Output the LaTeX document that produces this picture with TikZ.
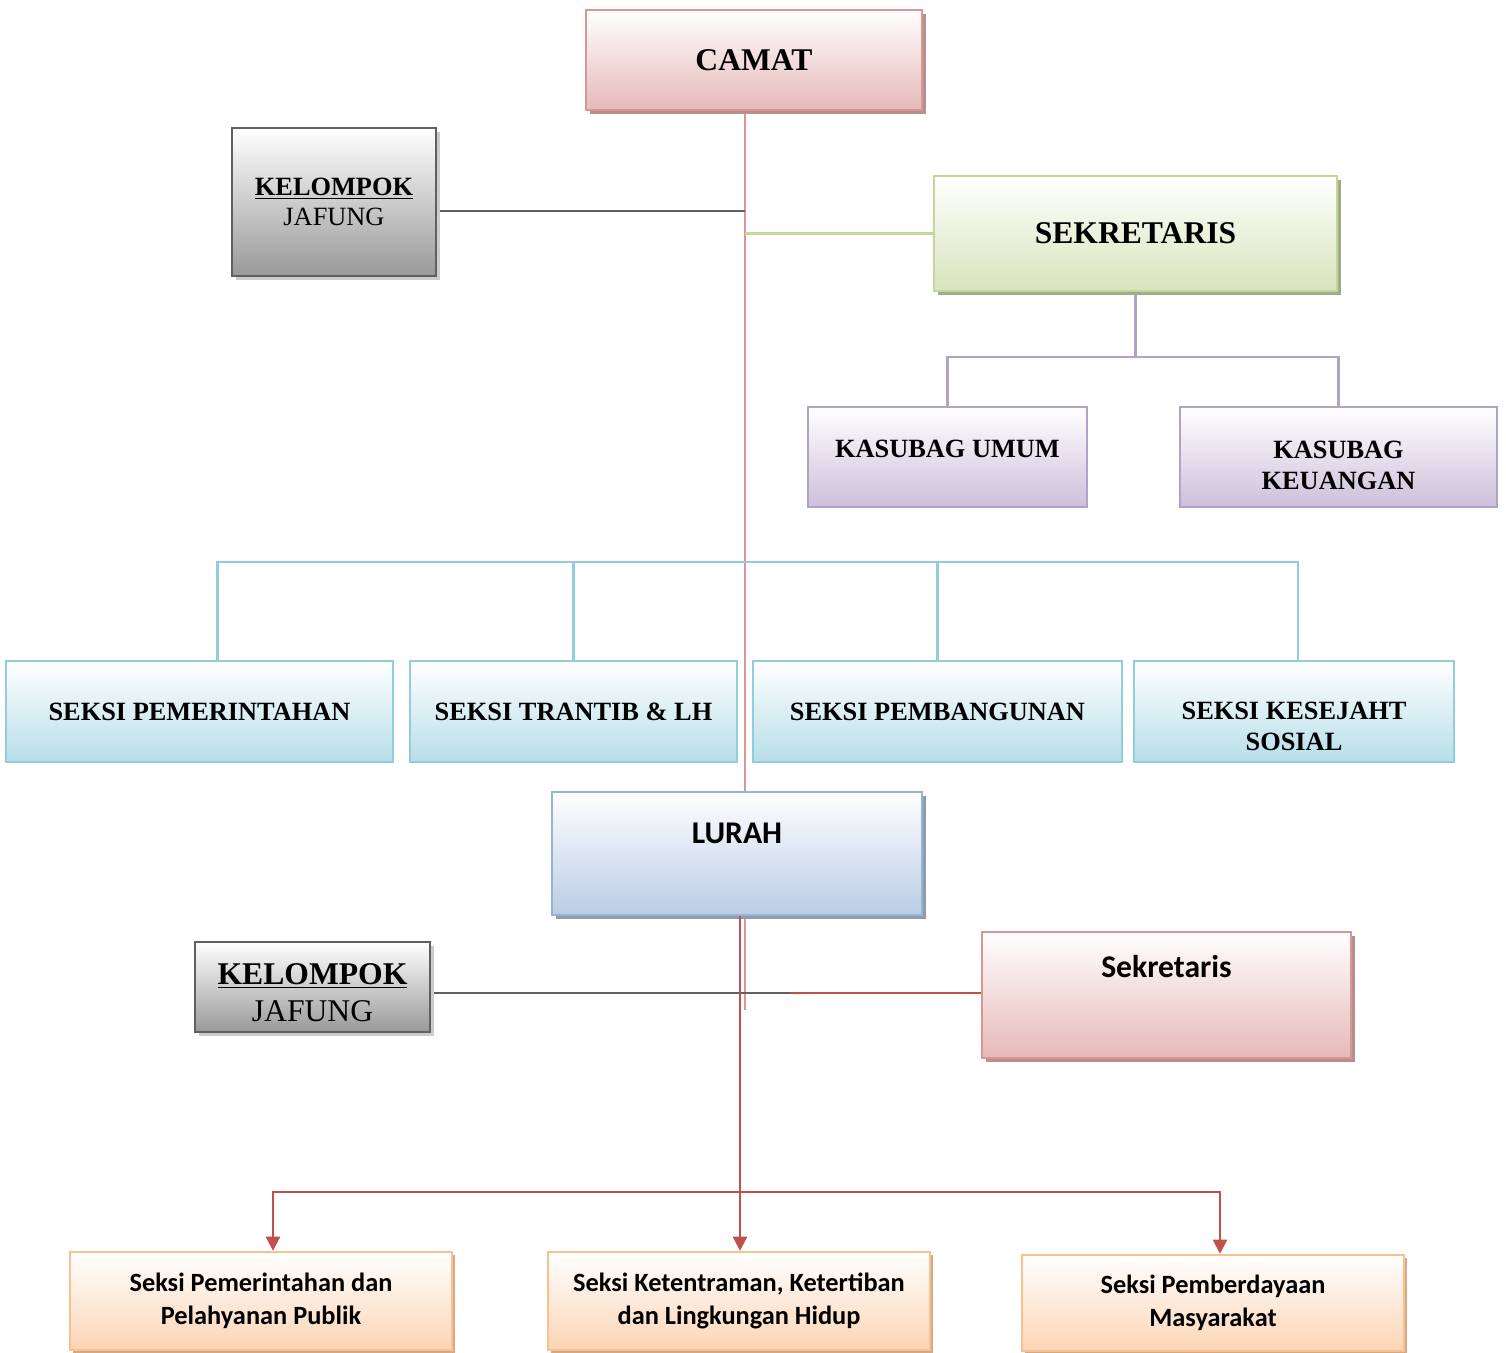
\documentclass[tikz,border=0pt]{standalone}
\usepackage{fontspec}
\setmainfont{Liberation Serif}
\newfontfamily\calibfont{Carlito}
\usetikzlibrary{arrows.meta,shadows,backgrounds}

\definecolor{camatdraw}{HTML}{D99694}
\definecolor{camatfill}{HTML}{E6B9B8}
\definecolor{camatshade}{HTML}{B49190}
\definecolor{jafdraw}{HTML}{606060}
\definecolor{jaffill}{HTML}{999999}
\definecolor{jafshade}{HTML}{CCCCCC}
\definecolor{sekdraw}{HTML}{C3D69B}
\definecolor{sekfill}{HTML}{D7E4BD}
\definecolor{sekshade}{HTML}{A0AC86}
\definecolor{subdraw}{HTML}{B3A2C7}
\definecolor{subfill}{HTML}{CCC0DA}
\definecolor{seksidraw}{HTML}{93CDDD}
\definecolor{seksifill}{HTML}{B7DEE8}
\definecolor{lurahdraw}{HTML}{95B3D7}
\definecolor{lurahfill}{HTML}{B9CDE5}
\definecolor{lurahshade}{HTML}{8F9CAE}
\definecolor{kelfill}{HTML}{FBD5B5}
\definecolor{keldraw}{HTML}{FAC090}
\definecolor{kelshade}{HTML}{D9A984}
\definecolor{redline}{HTML}{C0504D}

\tikzset{
  unitbox/.style={rectangle, align=center, inner sep=2pt},
  camatbox/.style={unitbox, draw=camatdraw, line width=1.6pt, top color=white, bottom color=camatfill,
    general shadow={fill=camatshade, shadow xshift=2.3pt, shadow yshift=-2.3pt}},
  jafungbox/.style={unitbox, draw=jafdraw, line width=1.6pt, top color=white, bottom color=jaffill,
    general shadow={fill=jafshade, shadow xshift=2.3pt, shadow yshift=-2.3pt}},
  sekbox/.style={unitbox, draw=sekdraw, line width=1.6pt, top color=white, bottom color=sekfill,
    general shadow={fill=sekshade, shadow xshift=2.3pt, shadow yshift=-2.3pt}},
  subbox/.style={unitbox, draw=subdraw, line width=1.2pt, top color=white, bottom color=subfill},
  seksibox/.style={unitbox, draw=seksidraw, line width=1.2pt, top color=white, bottom color=seksifill,
    minimum height=2.02cm},
  lurahbox/.style={unitbox, draw=lurahdraw, line width=1.6pt, top color=white, bottom color=lurahfill,
    general shadow={fill=lurahshade, shadow xshift=2.3pt, shadow yshift=-2.3pt}},
  kelbox/.style={unitbox, draw=keldraw, line width=1.4pt, top color=white, bottom color=kelfill,
    minimum width=7.64cm, minimum height=1.96cm,
    general shadow={fill=kelshade, shadow xshift=1.8pt, shadow yshift=-1.8pt}},
  bigtimes/.style={font=\bfseries\fontsize{18}{21}\selectfont},
  midtimes/.style={font=\bfseries\fontsize{15}{17.6}\selectfont},
  bigcalib/.style={font=\calibfont\bfseries\fontsize{18}{21}\selectfont},
  midcalib/.style={font=\calibfont\bfseries\fontsize{15}{18.8}\selectfont},
  spineline/.style={draw=camatdraw, line width=1.3pt},
  grayline/.style={draw=jafdraw, line width=1.2pt},
  greenline/.style={draw=sekdraw, line width=1.2pt},
  purpleline/.style={draw=subdraw, line width=1.2pt},
  aqualine/.style={draw=seksidraw, line width=1.2pt},
  redconn/.style={draw=redline, line width=1.2pt},
  redarrow/.style={redconn, -{Triangle[width=8pt,length=8pt]}}
}

\begin{document}
\begin{tikzpicture}[x=0.02cm, y=-0.02cm]
  \useasboundingbox (0,0) rectangle (1506,1352);

  % kecamatan
  \node[camatbox, bigtimes, minimum width=6.72cm, minimum height=2cm] (camat) at (754,60) {CAMAT};
  \node[jafungbox, font=\fontsize{15}{17}\selectfont, minimum width=4.08cm, minimum height=2.96cm] (jafung) at (334,202)
    {{\bfseries\underline{KELOMPOK}}\\JAFUNG};
  \node[sekbox, bigtimes, minimum width=8.06cm, minimum height=2.3cm] (sekre) at (1135.5,233.5) {SEKRETARIS};
  \node[subbox, midtimes, minimum width=5.58cm, minimum height=2cm, text depth=9pt] (umum) at (947.5,457) {KASUBAG UMUM};
  \node[subbox, midtimes, minimum width=6.34cm, minimum height=2cm, text height=37.5pt] (keuangan) at (1338.5,457) {KASUBAG\\KEUANGAN};

  \node[seksibox, midtimes, minimum width=7.74cm] (pemerintahan) at (199.5,711.5) {SEKSI PEMERINTAHAN};
  \node[seksibox, midtimes, minimum width=6.54cm] (trantib) at (573.5,711.5) {SEKSI TRANTIB \& LH};
  \node[seksibox, midtimes, minimum width=7.38cm] (pembangunan) at (937.5,711.5) {SEKSI PEMBANGUNAN};
  \node[seksibox, midtimes, minimum width=6.4cm, text height=45pt] (kesejahteraan) at (1294,711.5) {SEKSI KESEJAHT\\SOSIAL};

  % kelurahan
  \node[lurahbox, bigcalib, minimum width=7.4cm, minimum height=2.46cm, text depth=23pt] (lurah) at (737,853.5) {LURAH};
  \node[camatbox, bigcalib, minimum width=7.38cm, minimum height=2.52cm, text depth=33pt] (sekrelurah) at (1166.5,995) {Sekretaris};
  \node[jafungbox, font=\fontsize{18}{21}\selectfont, minimum width=4.7cm, minimum height=1.8cm, text height=39pt] (jafunglurah) at (312.5,987)
    {{\bfseries\underline{KELOMPOK}}\\JAFUNG};

  \node[kelbox, midcalib] (pelayanan) at (261,1301) {Seksi Pemerintahan dan\\Pelahyanan Publik};
  \node[kelbox, midcalib] (ketentraman) at (739,1301) {Seksi Ketentraman, Ketertiban\\dan Lingkungan Hidup};
  \node[kelbox, midcalib, minimum height=1.92cm] (pemberdayaan) at (1213,1303) {Seksi Pemberdayaan\\Masyarakat};

  \coordinate (spine) at (745,1010);
  \coordinate (jafungtap) at (745,211);
  \coordinate (subbar) at (0,357);
  \coordinate (seksibar) at (0,562);
  \coordinate (lurahtap) at (790,993);
  \coordinate (redbar) at (0,1192);

  % garis
  \begin{scope}[on background layer]
    \draw[spineline] (camat.south -| spine) -- (spine);
    \draw[grayline] (jafungtap -| jafung.east) -- (jafungtap);
    \draw[greenline] (sekre.west -| spine) -- (sekre.west);
    \draw[purpleline] (sekre.south) -- (sekre.south |- subbar);
    \draw[purpleline] (umum.north) |- (keuangan.north |- subbar) -- (keuangan.north);
    \draw[aqualine] ([xshift=0.36cm]pemerintahan.north) |- ([xshift=0.08cm]kesejahteraan.north |- seksibar)
      -- ([xshift=0.08cm]kesejahteraan.north);
    \draw[aqualine] (trantib.north) -- (trantib.north |- seksibar);
    \draw[aqualine] (pembangunan.north) -- (pembangunan.north |- seksibar);

    \draw[grayline] (lurahtap -| jafunglurah.east) -- (lurahtap);
    \draw[redconn] (lurahtap) -- (lurahtap -| sekrelurah.west);
  \end{scope}
  \draw[redarrow] ([xshift=0.06cm]lurah.south) -- ([xshift=0.06cm]lurah.south |- ketentraman.north);
  \draw[redarrow] ([xshift=0.06cm]lurah.south |- redbar) -| ([xshift=0.24cm]pelayanan.north);
  \draw[redarrow] ([xshift=0.06cm]lurah.south |- redbar) -| ([xshift=0.14cm]pemberdayaan.north);
\end{tikzpicture}
\end{document}
